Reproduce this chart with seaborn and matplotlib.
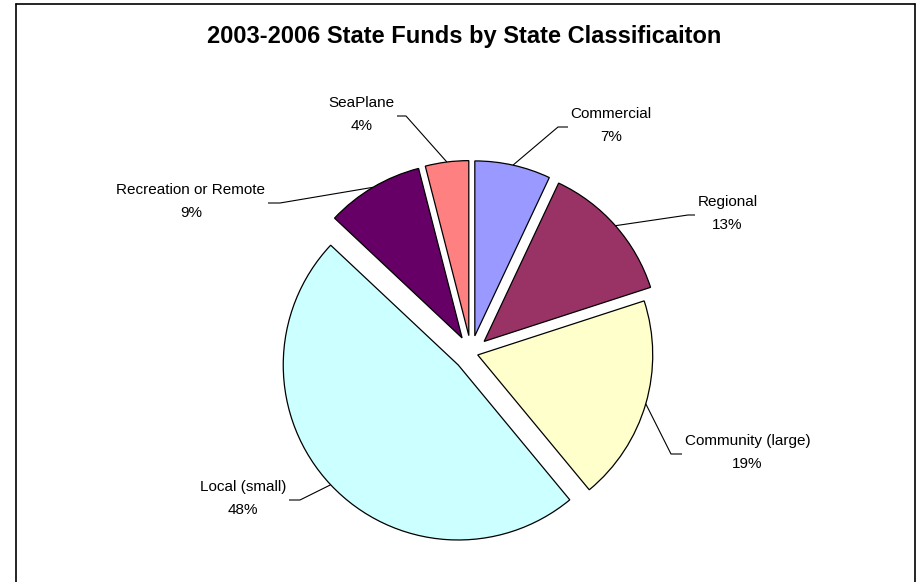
import matplotlib
matplotlib.use("Agg")
import matplotlib.pyplot as plt
from matplotlib.lines import Line2D
import numpy as np
import seaborn as sns

# Share of 2003-2006 state funds by airport classification (percent)
categories = ["Commercial", "Regional", "Community (large)", "Local (small)",
              "Recreation or Remote", "SeaPlane"]
shares = [7, 13, 19, 48, 9, 4]
colors = ["#9999FF", "#993366", "#FFFFCC", "#CCFFFF", "#660066", "#FF8080"]

sns.set_theme(style="white")
plt.rcParams["font.family"] = ["Liberation Sans", "DejaVu Sans"]

W, H, DPI = 919, 582, 100
fig = plt.figure(figsize=(W / DPI, H / DPI), dpi=DPI, facecolor="white")
ax = fig.add_axes([0, 0, 1, 1])

# pie geometry in pixels: centre and radius
CX, CY, R = 471.0, 353.0, 175.0


def px(x, y):
    """Convert figure pixel coordinates (y down) to data units."""
    return (x - CX) / R, (CY - y) / R


wedges, _ = ax.pie(
    shares,
    colors=colors,
    startangle=90,
    counterclock=False,
    explode=[0.1, 0.1, 0.04, 0.1, 0.1, 0.1],
    radius=1.0,
    center=(0, 0),
    wedgeprops=dict(edgecolor="black", linewidth=0.9),
)

ax.set_xlim(-CX / R, (W - CX) / R)
ax.set_ylim(-(H - CY) / R, CY / R)
ax.set_aspect("equal", adjustable="box")
ax.set_axis_off()

# leader line layout: elbow point, end point (pixels) and side of the text
leader_elbow = [(558, 127), (688, 215), (671, 454), (300, 500), (280, 203), (406, 116)]
leader_end = [(568, 127), (695, 215), (682, 454), (289, 500), (268, 203), (397, 116)]
label_side = ["right", "right", "right", "left", "left", "left"]

for w, name, val, elb, end, side in zip(wedges, categories, shares,
                                          leader_elbow, leader_end, label_side):
    mid = np.deg2rad((w.theta1 + w.theta2) / 2)
    cx, cy = w.center
    ax0 = cx + w.r * np.cos(mid)
    ay0 = cy + w.r * np.sin(mid)
    ex, ey = px(*elb)
    nx, ny = px(*end)
    ax.plot([ax0, ex, nx], [ay0, ey, ny], color="black", lw=0.8,
            solid_capstyle="butt", zorder=3)
    if side == "right":
        tx, ha = px(end[0] + 2.5, 0)[0], "left"
    else:
        tx, ha = px(end[0] - 2.5, 0)[0], "right"
    ty = px(0, end[1] - 1.5)[1]
    ax.text(tx, ty, f"{name}\n{val}%", ha=ha, va="center",
            multialignment="center", fontsize=11, linespacing=1.85,
            color="black")

fig.text(464.5 / W, 1 - 43.5 / H, "2003-2006 State Funds by State Classificaiton",
         ha="center", va="baseline", fontsize=17, fontweight="bold",
         color="black")

# chart frame (left, top and right edges)
frame_kw = dict(color="black", lw=1.2, transform=fig.transFigure)
fig.add_artist(Line2D([15.5 / W, 15.5 / W], [0, 1 - 3.5 / H], **frame_kw))
fig.add_artist(Line2D([15.5 / W, 914.5 / W], [1 - 3.5 / H, 1 - 3.5 / H], **frame_kw))
fig.add_artist(Line2D([914.5 / W, 914.5 / W], [0, 1 - 3.5 / H], **frame_kw))

fig.savefig("out.png", dpi=DPI, facecolor="white")
